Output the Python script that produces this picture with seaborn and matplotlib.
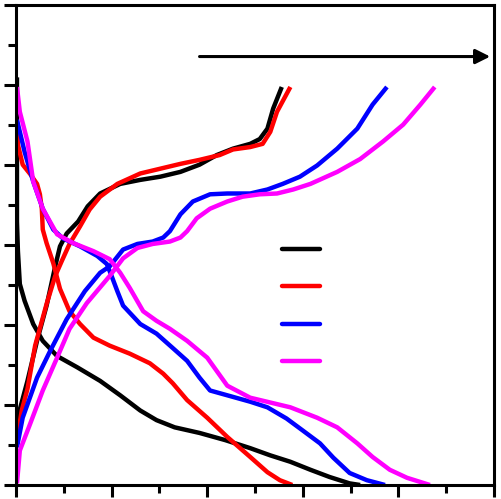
import matplotlib
matplotlib.use("Agg")
import matplotlib.pyplot as plt
import numpy as np
import pandas as pd
import seaborn as sns

# curves (x, y in axis units)
black_up_x = [0.01, 0.12, 0.22, 0.32, 0.41, 0.46, 0.53, 0.65, 0.75, 0.88, 1.09, 1.30, 1.51, 1.72, 1.92, 2.10, 2.27, 2.45, 2.55, 2.63, 2.69, 2.78]
black_up_y = [0.81, 1.30, 1.80, 2.24, 2.73, 2.98, 3.14, 3.29, 3.48, 3.64, 3.76, 3.81, 3.85, 3.91, 4.00, 4.12, 4.20, 4.26, 4.32, 4.45, 4.70, 4.97]
black_dn_x = [0.01, 0.01, 0.01, 0.02, 0.04, 0.09, 0.18, 0.28, 0.43, 0.64, 0.88, 1.09, 1.30, 1.47, 1.66, 1.92, 2.19, 2.45, 2.66, 2.87, 3.08, 3.28, 3.49, 3.60]
black_dn_y = [5.09, 4.16, 3.29, 2.92, 2.51, 2.30, 2.01, 1.80, 1.61, 1.47, 1.30, 1.12, 0.93, 0.81, 0.72, 0.65, 0.56, 0.46, 0.37, 0.29, 0.19, 0.10, 0.02, 0.00]

red_up_x = [0.01, 0.06, 0.12, 0.20, 0.32, 0.41, 0.48, 0.56, 0.67, 0.77, 0.88, 1.06, 1.30, 1.51, 1.72, 1.92, 2.13, 2.27, 2.45, 2.58, 2.66, 2.73, 2.87]
red_up_y = [0.56, 0.93, 1.20, 1.74, 2.26, 2.61, 2.80, 3.01, 3.23, 3.44, 3.60, 3.76, 3.89, 3.95, 4.01, 4.06, 4.12, 4.19, 4.22, 4.26, 4.41, 4.66, 4.97]
red_dn_x = [0.01, 0.02, 0.07, 0.15, 0.22, 0.25, 0.27, 0.28, 0.32, 0.39, 0.46, 0.56, 0.67, 0.81, 0.98, 1.19, 1.40, 1.54, 1.64, 1.79, 2.00, 2.21, 2.45, 2.63, 2.76, 2.89]
red_dn_y = [4.47, 4.25, 4.00, 3.88, 3.76, 3.63, 3.45, 3.19, 3.02, 2.77, 2.45, 2.17, 2.01, 1.84, 1.74, 1.64, 1.52, 1.39, 1.27, 1.06, 0.84, 0.60, 0.35, 0.16, 0.06, 0.00]

blue_up_x = [0.01, 0.07, 0.22, 0.36, 0.53, 0.72, 0.88, 0.98, 1.12, 1.27, 1.43, 1.54, 1.61, 1.72, 1.85, 2.03, 2.21, 2.45, 2.63, 2.79, 2.97, 3.15, 3.36, 3.57, 3.73, 3.88]
blue_up_y = [0.47, 0.84, 1.34, 1.68, 2.07, 2.42, 2.65, 2.73, 2.94, 3.01, 3.04, 3.09, 3.17, 3.38, 3.54, 3.63, 3.64, 3.64, 3.69, 3.76, 3.85, 3.99, 4.20, 4.45, 4.75, 4.97]
blue_dn_x = [0.01, 0.09, 0.18, 0.28, 0.39, 0.49, 0.67, 0.85, 0.95, 1.00, 1.06, 1.12, 1.30, 1.47, 1.64, 1.79, 1.92, 2.03, 2.21, 2.45, 2.63, 2.83, 3.00, 3.18, 3.32, 3.49, 3.67, 3.86]
blue_dn_y = [4.56, 4.16, 3.79, 3.45, 3.19, 3.08, 2.98, 2.86, 2.76, 2.61, 2.42, 2.24, 2.01, 1.89, 1.71, 1.55, 1.34, 1.18, 1.12, 1.04, 0.97, 0.83, 0.68, 0.52, 0.34, 0.15, 0.06, 0.00]

mag_up_x = [0.01, 0.04, 0.15, 0.28, 0.43, 0.56, 0.74, 0.98, 1.12, 1.27, 1.43, 1.61, 1.72, 1.79, 1.89, 2.03, 2.21, 2.37, 2.55, 2.73, 2.90, 3.08, 3.36, 3.60, 3.84, 4.05, 4.23, 4.38]
mag_up_y = [0.02, 0.43, 0.77, 1.18, 1.59, 1.95, 2.27, 2.61, 2.83, 2.96, 3.01, 3.04, 3.09, 3.17, 3.33, 3.45, 3.54, 3.60, 3.63, 3.64, 3.69, 3.76, 3.91, 4.07, 4.29, 4.50, 4.75, 4.97]
mag_dn_x = [0.01, 0.04, 0.12, 0.18, 0.28, 0.43, 0.60, 0.81, 0.98, 1.09, 1.19, 1.33, 1.47, 1.61, 1.79, 2.00, 2.21, 2.45, 2.66, 2.87, 3.15, 3.36, 3.57, 3.73, 3.91, 4.09, 4.33]
mag_dn_y = [4.97, 4.66, 4.29, 3.79, 3.45, 3.13, 3.02, 2.92, 2.82, 2.65, 2.46, 2.17, 2.05, 1.95, 1.80, 1.59, 1.24, 1.09, 1.03, 0.97, 0.84, 0.72, 0.52, 0.35, 0.19, 0.09, 0.00]

colors = ["#000000", "#ff0000", "#0000ff", "#ff00ff"]
curves = [
    (black_up_x, black_up_y, black_dn_x, black_dn_y),
    (red_up_x, red_up_y, red_dn_x, red_dn_y),
    (blue_up_x, blue_up_y, blue_dn_x, blue_dn_y),
    (mag_up_x, mag_up_y, mag_dn_x, mag_dn_y),
]

sns.set_theme(style="ticks")
fig = plt.figure(figsize=(5.01, 4.99), dpi=100)
ax = fig.add_axes([16 / 501, 14 / 499, 478 / 501, 480.5 / 499])

handles = []
for (ux, uy, dx, dy), c in zip(curves, colors):
    sns.lineplot(x=ux, y=uy, sort=False, estimator=None, color=c, lw=3.2,
                 solid_joinstyle="round", solid_capstyle="butt", ax=ax)
    sns.lineplot(x=dx, y=dy, sort=False, estimator=None, color=c, lw=3.2,
                 solid_joinstyle="round", solid_capstyle="butt", ax=ax)
    handles.append(plt.Line2D([], [], color=c, lw=3.2))

ax.set_xlim(0, 5)
ax.set_ylim(0, 6)
ax.set_xticks(np.arange(0, 5.01, 1))
ax.set_xticks(np.arange(0.5, 5, 1), minor=True)
ax.set_yticks(np.arange(0, 6.01, 1))
ax.set_yticks(np.arange(0.5, 6, 1), minor=True)
ax.set_xticklabels([])
ax.set_yticklabels([])
ax.tick_params(which="major", direction="out", length=8.5, width=2.2, color="black")
ax.tick_params(which="minor", direction="out", length=5.5, width=2.2, color="black")
for s in ax.spines.values():
    s.set_linewidth(2.2)
    s.set_color("black")

ax.annotate("", xy=(4.96, 5.35), xytext=(1.92, 5.35),
            arrowprops=dict(arrowstyle="-|>", lw=2.2, color="black", mutation_scale=22,
                            shrinkA=0, shrinkB=0))

ax.legend(handles, [" "] * 4, frameon=False, loc="upper left",
          bbox_to_anchor=(282 / 501, 1 - 243 / 499), bbox_transform=fig.transFigure,
          handlelength=2.75, handletextpad=0, borderpad=0, borderaxespad=0,
          labelspacing=1.68, fontsize=10)

fig.savefig("out.png", dpi=100)
